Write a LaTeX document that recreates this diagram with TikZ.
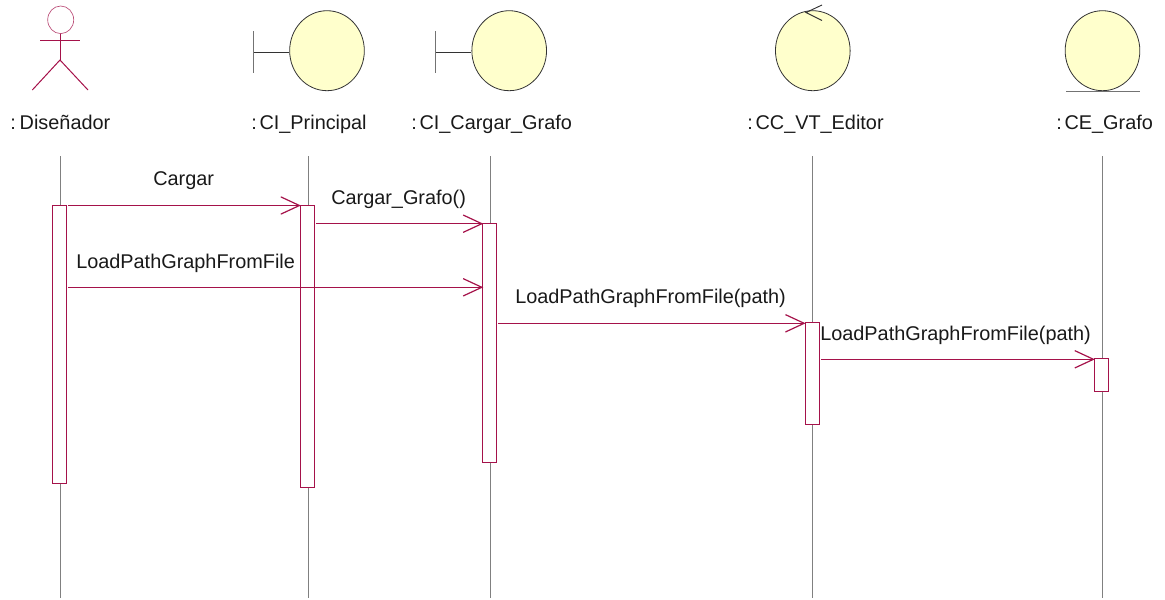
\documentclass[tikz,border=0pt]{standalone}
\usepackage{fontspec}
\setmainfont{Liberation Sans}
\usetikzlibrary{arrows.meta,shapes.geometric}
\definecolor{seq}{HTML}{A5124A}
\definecolor{lifeg}{HTML}{808080}
\definecolor{bodyy}{HTML}{FFFFCC}
\newcommand{\cln}{:\hspace{0.14em}}
\tikzset{
  lifeline/.style={draw=lifeg,line width=0.75pt},
  actbox/.style={draw=seq,fill=white,line width=0.75pt,rectangle,inner sep=0pt,minimum width=10.5pt,anchor=north},
  msg/.style={draw=seq,line width=0.75pt,shorten >=-0.8pt,-{Straight Barb[length=14pt,width=13pt,line width=0.9pt]}},
  body/.style={draw=black!80,fill=bodyy,line width=0.6pt,ellipse,inner sep=0pt,minimum width=56pt,minimum height=60pt},
  iconbar/.style={draw=black!55,line width=0.7pt},
  iconline/.style={draw=black!80,line width=0.7pt},
  lbl/.style={font=\fontsize{14.9pt}{17pt}\selectfont,inner sep=0pt,text=black!90,anchor=base west},
  actorline/.style={draw=seq,line width=0.75pt}
}
\begin{document}
\begin{tikzpicture}[x=0.75pt,y=-0.75pt]
\useasboundingbox (0,0) rectangle (1165,600);
% lifelines
\foreach \n/\x in {a/60,b/308,c/490,d/812.7,e/1102.3}{
  \coordinate (top\n) at (\x,156);
  \coordinate (bot\n) at (\x,598);
  \draw[lifeline] (top\n) -- (bot\n);
}
% activations
\node[actbox,minimum height=208.5pt] (actA) at (59.3,204.7) {};
\node[actbox,minimum height=211.5pt] (actB) at (307.3,204.7) {};
\node[actbox,minimum height=179.25pt] (actC) at (489.7,222.7) {};
\node[actbox,minimum height=76.5pt] (actD) at (812,322.3) {};
\node[actbox,minimum height=24.3pt] (actE) at (1101.3,358.3) {};
% message ends
\coordinate (m1s) at (68,205.5); \coordinate (m1e) at (actB.north west |- m1s);
\coordinate (m2s) at (316,223.7); \coordinate (m2e) at (actC.north west |- m2s);
\coordinate (m3s) at (68,287.3); \coordinate (m3e) at (actC.north west |- m3s);
\coordinate (m4s) at (498,323.3); \coordinate (m4e) at (actD.north west |- m4s);
\coordinate (m5s) at (821,359.3); \coordinate (m5e) at (actE.north west |- m5s);
\draw[msg] (m1s) -- (m1e);
\draw[msg] (m2s) -- (m2e);
\draw[msg] (m3s) -- (m3e);
\draw[msg] (m4s) -- (m4e);
\draw[msg] (m5s) -- (m5e);
% actor
\node[ellipse,draw=seq!75,line width=0.5pt,minimum width=19.5pt,minimum height=20.7pt,inner sep=0pt] (head) at (60.7,19.8) {};
\coordinate (hip) at (60,60);
\coordinate (armL) at (40,40.7); \coordinate (armR) at (80,40.7);
\coordinate (legL) at (32.3,90); \coordinate (legR) at (88,90);
\draw[actorline] (60,33.5) -- (hip);
\draw[actorline] (armL) -- (armR);
\draw[actorline] (legL) -- (hip) -- (legR);
% boundary 1
\node[body] (bnd1) at (327,50.7) {};
\coordinate (bnd1bar) at (253,52);
\draw[iconline] (bnd1bar) -- (bnd1bar -| bnd1.west);
\draw[iconbar] (253,31) -- (253,73);
% boundary 2
\node[body] (bnd2) at (509.2,50.7) {};
\coordinate (bnd2bar) at (435.3,52);
\draw[iconline] (bnd2bar) -- (bnd2bar -| bnd2.west);
\draw[iconbar] (435.3,31) -- (435.3,73);
% control
\node[body] (ctl) at (812.8,50.7) {};
\coordinate (ctlT) at (806,12.5);
\draw[iconline] (822,5) -- (ctlT) -- (822,20.5);
% entity
\node[body] (ent) at (1102.5,50.7) {};
\draw[iconbar] (1066,91.5) -- (1140,91.5);
% labels
\node[lbl] (lA) at (10,129) {:\hspace{0.2em}Diseñador};
\node[lbl] (lB) at (251,129) {\cln CI\_Principal};
\node[lbl] (lC) at (411,129) {\cln CI\_Cargar\_Grafo};
\node[lbl] (lD) at (747,129) {\cln CC\_VT\_Editor};
\node[lbl] (lE) at (1056,129) {\cln CE\_Grafo};
\node[lbl] (t1) at (153,185) {Cargar};
\node[lbl] (t2) at (331,204) {Cargar\_Grafo()};
\node[lbl] (t3) at (76,268.5) {LoadPathGraphFromFile};
\node[lbl] (t4) at (515,303.5) {LoadPathGraphFromFile(path)};
\node[lbl] (t5) at (820,340.5) {LoadPathGraphFromFile(path)};
\end{tikzpicture}
\end{document}
